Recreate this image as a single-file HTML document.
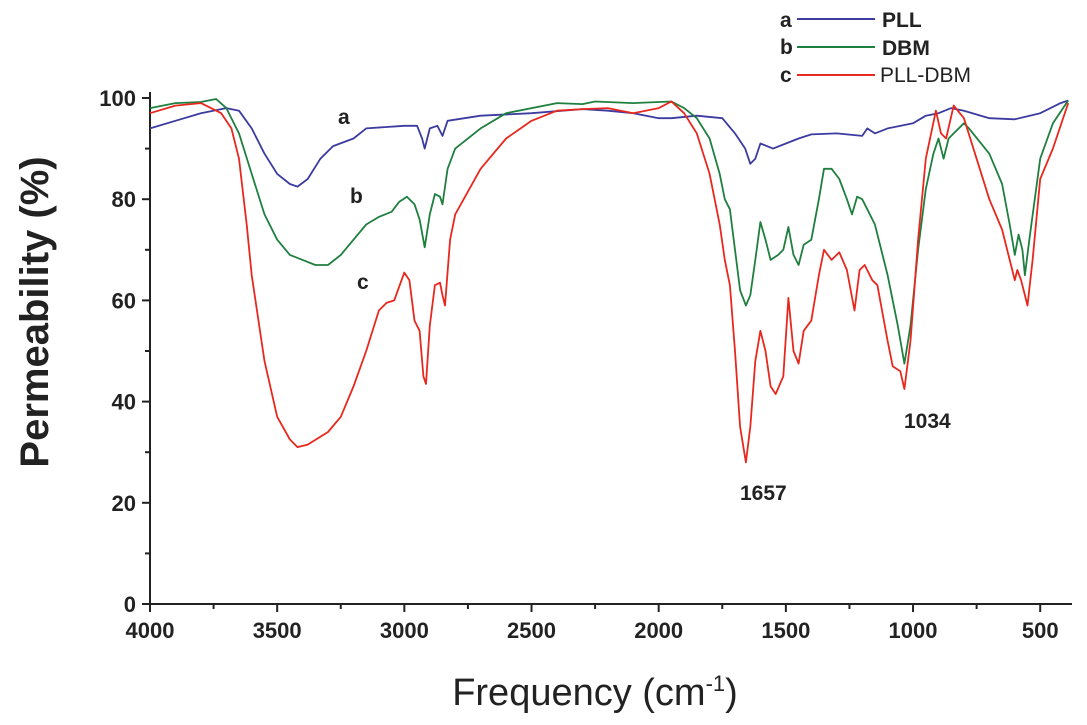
<!DOCTYPE html>
<html><head><meta charset="utf-8">
<style>
html,body{margin:0;padding:0;background:#fff;}
svg{display:block;font-family:"Liberation Sans",Arial,sans-serif;}
</style></head>
<body>
<svg id="chart" width="1087" height="725" viewBox="0 0 1087 725">
<g id="axes"></g>
<g id="series"></g>
<g font-weight="bold" font-size="21" fill="#222">
  <text x="780" y="27">a</text>
  <line x1="797" y1="19" x2="875" y2="19" stroke="#3b3ba0" stroke-width="2"/>
  <text x="882" y="27">PLL</text>
  <text x="780" y="54">b</text>
  <line x1="797" y1="47" x2="875" y2="47" stroke="#1f7f3f" stroke-width="2"/>
  <text x="882" y="55">DBM</text>
  <text x="780" y="82">c</text>
  <line x1="797" y1="75" x2="875" y2="75" stroke="#e8281e" stroke-width="2"/>
  <text x="880" y="82" font-weight="normal">PLL-DBM</text>
</g>
<g font-weight="bold" font-size="21" fill="#222">
  <text x="338" y="124">a</text>
  <text x="350" y="203">b</text>
  <text x="357" y="289">c</text>
  <text x="740" y="500">1657</text>
  <text x="904" y="428">1034</text>
</g>
<text x="595" y="705" text-anchor="middle" font-size="38" fill="#222">Frequency (cm<tspan dy="-14" font-size="22">-1</tspan><tspan dy="14">)</tspan></text>
<text transform="translate(48,312) rotate(-90)" text-anchor="middle" font-size="40" font-weight="bold" fill="#222">Permeability (%)</text>
</svg>
<script>
const xTicks=[4000,3500,3000,2500,2000,1500,1000,500];
const yTicks=[0,20,40,60,80,100];
const xA=[4000,3900,3800,3700,3650,3600,3550,3500,3450,3420,3380,3330,3280,3200,3150,3000,2950,2930,2920,2900,2870,2850,2830,2700,2500,2300,2200,2100,2000,1950,1850,1750,1700,1660,1640,1620,1600,1550,1500,1450,1400,1300,1200,1180,1150,1100,1000,950,900,850,800,700,600,500,420,390];
const yA=[94,95.5,97,98,97.5,94,89,85,83,82.5,84,88,90.5,92,94,94.5,94.5,92,90,94,94.5,92.5,95.5,96.5,97,97.8,97.5,97,96,96,96.5,96,93,90,87,88,91,90,91,92,92.8,93,92.5,94,93,94,95,96.5,97,98,97.5,96,95.8,97,99,99.5];
const xB=[4000,3900,3800,3740,3700,3650,3600,3550,3500,3450,3400,3350,3300,3250,3200,3150,3100,3050,3020,2990,2960,2940,2920,2900,2880,2860,2850,2830,2800,2700,2600,2400,2300,2250,2100,1950,1900,1850,1800,1760,1740,1720,1700,1680,1657,1640,1620,1600,1580,1560,1530,1510,1490,1470,1450,1430,1400,1370,1350,1320,1290,1260,1240,1220,1200,1180,1150,1100,1060,1034,1010,980,950,920,900,880,860,840,800,780,700,650,620,600,585,570,560,540,500,450,390];
const yB=[98,99,99.2,99.8,98,93,85,77,72,69,68,67,67,69,72,75,76.5,77.5,79.5,80.5,79,76,70.5,77,81,80.5,79,86,90,94,97,99,98.8,99.3,99,99.3,98,96,92,85,80,78,70,62,59,61,68,75.5,72,68,69,70,74.5,69,67,71,72,80,86,86,84,80,77,80.5,80,78,75,65,55,47.5,55,70,82,89,92,88,92,93,95,94,89,83,75,69,73,70,65,73,88,95,99.5];
const xC=[4000,3900,3800,3760,3720,3680,3650,3620,3600,3550,3500,3450,3420,3380,3300,3250,3200,3150,3100,3070,3040,3000,2980,2960,2940,2925,2915,2900,2880,2860,2850,2840,2820,2800,2700,2600,2500,2400,2300,2200,2100,2000,1950,1900,1850,1800,1760,1740,1720,1700,1680,1657,1640,1620,1600,1580,1560,1540,1510,1490,1470,1450,1430,1400,1370,1350,1320,1290,1260,1230,1210,1190,1160,1140,1100,1080,1050,1034,1010,980,950,910,890,870,840,800,750,700,650,620,600,590,575,550,530,500,450,390];
const yC=[97,98.5,99,98,97,94,88,75,65,48,37,32.5,31,31.5,34,37,43,50,58,59.5,60,65.5,64,56,54,45,43.5,55,63,63.5,61,59,72,77,86,92,95.5,97.5,97.8,98,97,98,99.3,97,93,85,75,68,63,50,35,28,35,48,54,50,43,41.5,45,60.5,50,47.5,54,56,65,70,68,69.5,66,58,66,67,64,63,52,47,46,42.5,52,72,88,97.5,93,92,98.5,96,88,80,74,68,64,66,64,59,68,84,90,99];

const NS='http://www.w3.org/2000/svg';
const X0=150,X1=1072,Y0=604,Y1=98;
const xMin=4000,xMax=375;
const sx=v=>X0+(xMin-v)/(xMin-xMax)*(X1-X0);
const sy=v=>Y0-(v/100)*(Y0-Y1);
function mk(t,a,p){const e=document.createElementNS(NS,t);for(const k in a)e.setAttribute(k,a[k]);p.appendChild(e);return e;}
const axes=document.getElementById('axes');
const ya=mk('line',{x1:X0,y1:Y0,x2:X0,y2:Y1-6,stroke:'#222','stroke-width':2},axes);


const xa=mk('line',{x1:X0,y1:Y0,x2:X1,y2:Y0,stroke:'#222','stroke-width':2},axes);


for(let v=4000;v>=500;v-=250){const big=v%500===0;mk('line',{x1:sx(v),y1:Y0,x2:sx(v),y2:Y0+(big?8:5),stroke:'#222','stroke-width':2},axes);}
for(let v=0;v<=100;v+=10){const big=v%20===0;mk('line',{x1:X0,y1:sy(v),x2:X0-(big?8:5),y2:sy(v),stroke:'#222','stroke-width':2},axes);}
xTicks.forEach(v=>{const t=mk('text',{x:sx(v),y:Y0+34,'text-anchor':'middle','font-size':22,'font-weight':'bold',fill:'#222'},axes);t.textContent=v;

});
yTicks.forEach(v=>{const t=mk('text',{x:X0-14,y:sy(v)+8,'text-anchor':'end','font-size':22,'font-weight':'bold',fill:'#222'},axes);t.textContent=v;

});
const sg=document.getElementById('series');
function line(xs,ys,c){const d=xs.map((x,i)=>(i?'L':'M')+sx(x).toFixed(1)+','+sy(ys[i]).toFixed(1)).join('');
mk('path',{d:d,fill:'none',stroke:c,'stroke-width':1.8,'stroke-linejoin':'round',},sg);}
line(xA,yA,'#3b3ba0');

line(xB,yB,'#1f7f3f');

line(xC,yC,'#e8281e');

</script>
</body></html>
